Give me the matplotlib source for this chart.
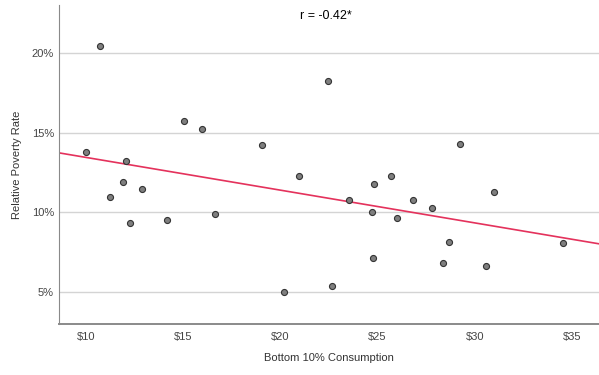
import numpy as np
from matplotlib import pyplot as plt

# -- data --

consumption = [10.00, 10.74, 11.23, 11.89, 12.04, 12.24, 12.86, 14.15, 15.04, 15.95,
               16.65, 19.05, 20.19, 20.94, 22.45, 22.65, 23.54, 24.73, 24.83, 24.76,
               25.70, 26.01, 26.82, 27.83, 28.36, 28.69, 29.24, 30.58, 31.00, 34.54]
poverty = [13.79, 20.46, 10.94, 11.89, 13.25, 9.36, 11.48, 9.54, 15.71, 15.23,
           9.90, 14.25, 4.98, 12.25, 18.23, 5.36, 10.79, 10.04, 11.76, 7.15,
           12.28, 9.67, 10.78, 10.28, 6.84, 8.13, 14.31, 6.63, 11.28, 8.09]

x_ticks = [10, 15, 20, 25, 30, 35]
y_ticks = [5, 10, 15, 20]
r_label = "r = -0.42*"

plt.rcParams['font.family'] = ['Liberation Sans', 'DejaVu Sans']

fig = plt.figure(figsize=(5.99, 3.75), dpi=100)
ax = fig.add_axes([59 / 599, 51 / 375, 540 / 599, 319 / 375])

ax.set_xlim(8.61, 36.4)
ax.set_ylim(3.0, 23.0)

for t in y_ticks:
    ax.axhline(t, color="#d4d4d4", lw=1.0, zorder=0)

# regression line from the data
x = np.array(consumption)
y = np.array(poverty)
slope, icpt = np.polyfit(x, y, 1)
xs = np.array(ax.get_xlim())
ax.plot(xs, slope * xs + icpt, color="#e4325c", lw=1.2, zorder=2)

ax.scatter(x, y, s=19, facecolor="#7f7f7f", edgecolor="#333333", linewidth=0.8, zorder=3)

ax.set_xticks(x_ticks)
ax.set_xticklabels(["$%d" % t for t in x_ticks])
ax.set_yticks(y_ticks)
ax.set_yticklabels(["%d%%" % t for t in y_ticks])
ax.tick_params(length=0, labelsize=8, colors="#444444")
ax.tick_params(axis="x", pad=5.5)
ax.tick_params(axis="y", pad=3.6)

for side in ("top", "right"):
    ax.spines[side].set_visible(False)
ax.spines["left"].set_color("#8a8a8a")
ax.spines["bottom"].set_color("#8a8a8a")
ax.spines["bottom"].set_linewidth(1.4)

ax.set_xlabel("Bottom 10% Consumption", fontsize=8, color="#333333", labelpad=8)
ax.set_ylabel("Relative Poverty Rate", fontsize=8, color="#333333", labelpad=7)

ax.text(0.4935, 0.965, r_label, transform=ax.transAxes, ha="center", va="center",
        fontsize=9, color="black")

fig.savefig("out.png", dpi=100)
